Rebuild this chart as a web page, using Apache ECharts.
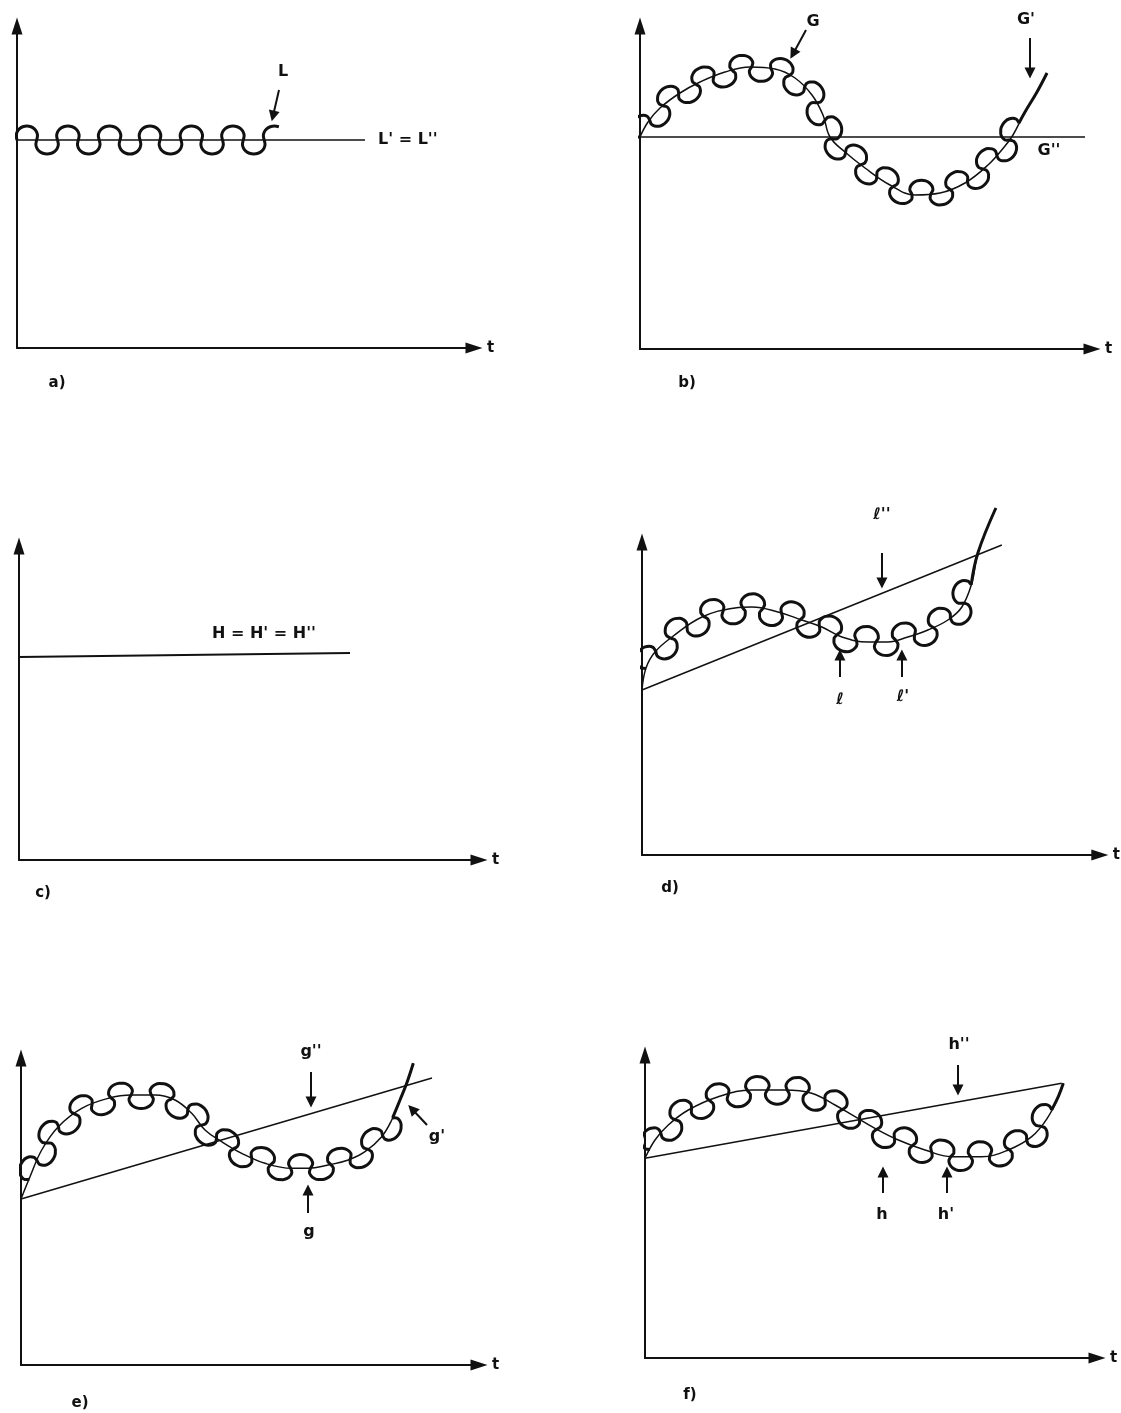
<!DOCTYPE html>
<html><head><meta charset="utf-8">
<script src="https://cdn.jsdelivr.net/npm/echarts@6/dist/echarts.min.js"></script>
<style>html,body{margin:0;padding:0;background:#fff}#c{width:1121px;height:1413px}</style>
</head><body><div id="c"></div><script>
// ---------- data (data units of each panel) ----------
const panelLabels = ['a)', 'b)', 'c)', 'd)', 'e)', 'f)'];

// a) L' = L''
const aLevel = [[0, 208], [348, 208]];
const aNodes = [[0,208],[19.7,208],[40.5,208],[61.3,208],[82.2,208],[103,208],[123,208],[143,208],[164,208],[184.7,208],[205.5,208],[226.3,208],[247.2,208],[268,208]];

// b) G, G', G''
const bLevel = [[0, 212], [445, 212]];
const bTrend = [[0,212],[8,227],[20,241],[40,256],[60,267],[85,277],[110,282],[135,280],[155,271],[172,254],[183,234],[190,212],[205,197],[225,181],[250,164],[275,154],[300,156],[325,166],[348,184],[365,203],[373,214],[385,237],[397,257],[407,276]];
const bNodes = [[0,212],[9.7,229],[23,243.3],[38.7,255.1],[55.8,264.7],[73.8,272.5],[92.4,278.5],[111.6,281.9],[131,280.3],[149.4,273.5],[164.5,261.5],[176.3,246.2],[184.8,228.5],[191.6,210.4],[205.6,196.5],[220.9,184.3],[236.8,173],[253.4,162.6],[271.7,155.3],[291,155.3],[309.8,159.9],[327.5,168],[343,180.1],[356.8,193.9],[369.3,208.9],[379,226]];
const bTail = [[379,226],[385,237],[397,257],[407,276]];

// c) H = H' = H''
const cLevel = [[0, 203], [331, 207]];

// d) l, l', l''
const dLine = [[0, 165], [360, 310]];
const dTrend = [[0,165],[4,187],[13,203],[30,218],[60,238],[93,247],[110,248],[136,243],[160,235],[180,228],[200,218],[226,213],[246,213],[266,218],[286,225],[306,235],[320,248],[330,272],[336,302],[354,347]];
const dNodes = [[3.9,186.6],[13.8,203.7],[28.7,216.9],[45.1,228],[61.9,238.5],[81.1,243.8],[100.6,247.4],[120.4,246],[139.6,241.8],[158.6,235.5],[177.4,228.9],[195.2,220.4],[214.3,215.2],[234,213],[253.7,214.9],[272.8,220.4],[291.3,227.6],[308.5,237.3],[321.6,251.9],[329.3,270.3]];
const dTail = [[329.3,270.3],[336,302],[354,347]];

// e) g, g', g''
const eLine = [[0, 166], [411, 287]];
const eTrend = [[0,166],[9,188.3],[20.7,215],[37.3,238.3],[60.7,256.7],[87.3,266.7],[110.7,270],[134,270],[154,265],[170.7,251.7],[184,235],[200.7,223.3],[220.7,211.7],[244,201.7],[270.7,196.7],[287.3,196.7],[307.3,200],[327.3,205],[344,213.3],[360.7,228.3],[370.7,245],[379,265],[385.7,281.7],[392.3,301.7]];
const eNodes = [[8.2,185.8],[16,204.3],[25.7,222],[37.5,238.5],[53.4,251],[71.1,260.6],[90.1,267.1],[110,269.9],[130.3,270],[150.2,266],[166.7,254.9],[180.1,239.9],[195.5,226.9],[212.7,216.3],[230.7,207.4],[249.9,200.6],[269.6,196.9],[289.7,197.1],[309.7,200.6],[329.2,206],[346.8,215.8],[361.5,229.6],[371.6,247.1]];
const eTail = [[371.6,247.1],[379,265],[385.7,281.7],[392.3,301.7]];

// f) h, h', h''
const fLine = [[0, 199.7], [416.7, 274.7]];
const fTrend = [[0,199.7],[10,218],[23.3,233],[43.3,248],[73.3,261.3],[106.7,268],[140,268],[166.7,264.7],[190,253],[210,241.3],[230,229.7],[253.3,218],[280,208],[306.7,201.3],[336.7,201.3],[363.3,208],[386.7,221.3],[403.3,241.3],[413.3,261.3],[418.3,274.7]];
const fNodes = [[4.8,208.5],[15.9,224.8],[30.3,238.2],[46.6,249.5],[64.6,257.4],[83.3,263.3],[102.7,267.2],[122.4,268],[142.4,267.7],[161.9,265.3],[180,258],[197.5,248.6],[214.6,238.6],[231.9,228.8],[249.5,219.9],[267.7,212.6],[286.6,206.4],[305.9,201.5],[325.6,201.3],[345.2,203.4],[364.2,208.5],[381.6,218.4],[395.5,231.9],[406.7,248.1]];
const fTail = [[406.7,248.1],[413.3,261.3],[418.3,274.7]];

// annotation arrows [panel, from, to]
const arrows = [
  [0, [262,258], [256,232]],
  [1, [166,319], [153,295]],
  [1, [390,311], [390,276]],
  [3, [240,302], [240,272]],
  [3, [198,178], [198,200]],
  [3, [260,178], [260,200]],
  [4, [290,293], [290,263]],
  [4, [287,152], [287,175]],
  [4, [406,240], [391,256]],
  [5, [313,293], [313,268]],
  [5, [238,165], [238,186]],
  [5, [302,165], [302,186]]
];
// text labels [panel, text, x, y, align]
const labels = [
  [0, 'L', 266, 276, 'center'],
  [0, "L' = L''", 361, 208, 'left'],
  [1, 'G', 173, 327, 'center'],
  [1, "G'", 386, 329, 'center'],
  [1, "G''", 409, 198, 'center'],
  [2, "H = H' = H''", 245, 226, 'center'],
  [3, "\u2113''", 240, 340, 'center'],
  [3, '\u2113', 198, 155, 'center'],
  [3, "\u2113'", 261, 158, 'center'],
  [4, "g''", 290, 313, 'center'],
  [4, 'g', 288, 133, 'center'],
  [4, "g'", 416, 228, 'center'],
  [5, "h''", 314, 313, 'center'],
  [5, 'h', 237, 143, 'center'],
  [5, "h'", 301, 143, 'center']
];

// half-bump glyphs of the wiggly curves (fraction of chord, fraction of height)
const bumpShape = [[0,0],[-0.025,0.15],[-0.04,0.3],[0.001,0.568],[0.118,0.795],[0.293,0.947],[0.5,1],[0.707,0.947],[0.882,0.795],[0.999,0.568],[1.04,0.3],[1.025,0.15],[1,0]];
const loopShape = [[0,0],[-0.06,0.15],[-0.1,0.3],[-0.054,0.568],[0.076,0.795],[0.27,0.947],[0.5,1],[0.73,0.947],[0.924,0.795],[1.054,0.568],[1.1,0.3],[1.06,0.15],[1,0]];

// ---------- layout ----------
const panels = [
  {ox: 17,  oy: 348,  W: 457, H: 322, lab: [57, 383]},
  {ox: 640, oy: 349,  W: 452, H: 323, lab: [687, 383]},
  {ox: 19,  oy: 860,  W: 460, H: 314, lab: [43, 893]},
  {ox: 642, oy: 855,  W: 458, H: 313, lab: [670, 888]},
  {ox: 21,  oy: 1365, W: 458, H: 307, lab: [80, 1403]},
  {ox: 645, oy: 1358, W: 452, H: 303, lab: [690, 1395]}
];

function wiggle(nodes, shape, amp, firstSign, lastCount) {
  const out = [];
  for (let i = 0; i < nodes.length - 1; i++) {
    const [x0, y0] = nodes[i], [x1, y1] = nodes[i + 1];
    const dx = x1 - x0, dy = y1 - y0, L = Math.hypot(dx, dy);
    const nx = -dy / L, ny = dx / L;
    const s = firstSign * (i % 2 === 0 ? 1 : -1);
    const n = (i === nodes.length - 2 && lastCount) ? lastCount : shape.length;
    for (let k = (i === 0 ? 0 : 1); k < n; k++) {
      const [u, v] = shape[k];
      out.push([x0 + dx * u + nx * s * amp * v, y0 + dy * u + ny * s * amp * v]);
    }
  }
  return out;
}

const INK = '#111';
const FONT = '"DejaVu Sans"';
const grid = [], xAxis = [], yAxis = [], series = [];
panels.forEach((p, i) => {
  grid.push({left: p.ox, top: p.oy - p.H, width: p.W, height: p.H});
  const axLine = {show: true, onZero: false, symbol: ['none', 'triangle'], symbolSize: [11, 17], lineStyle: {color: INK, width: 2}};
  xAxis.push({type: 'value', gridIndex: i, min: 0, max: p.W, axisLine: axLine,
    axisTick: {show: false}, axisLabel: {show: false}, splitLine: {show: false},
    name: 't', nameLocation: 'end', nameGap: 13,
    nameTextStyle: {color: INK, fontFamily: 'DejaVu Sans', fontWeight: 'bold', fontSize: 15}});
  yAxis.push({type: 'value', gridIndex: i, min: 0, max: p.H, axisLine: axLine,
    axisTick: {show: false}, axisLabel: {show: false}, splitLine: {show: false}});
});

function line(i, data, width, smooth, clip) {
  series.push({type: 'line', xAxisIndex: i, yAxisIndex: i, data: data, showSymbol: false, symbol: 'none',
    smooth: smooth, clip: clip, silent: true, lineStyle: {color: INK, width: width}});
}
// a
line(0, aLevel, 1.5, false, false);
line(0, wiggle(aNodes, bumpShape, 14, 1, 8), 3, 0.35, true);
// b
line(1, bLevel, 1.5, false, false);
line(1, bTrend, 1.5, 0.4, false);
line(1, wiggle(bNodes, loopShape, 13.5, 1), 3, 0.35, true);
line(1, bTail, 3, 0.4, false);
// c
line(2, cLevel, 2, false, false);
// d
line(3, dLine, 1.5, false, false);
line(3, dTrend, 1.5, 0.4, false);
line(3, wiggle(dNodes, loopShape, 14.5, 1), 3, 0.35, true);
line(3, dTail, 3, 0.4, false);
// e
line(4, eLine, 1.5, false, false);
line(4, eTrend, 1.5, 0.4, false);
line(4, wiggle(eNodes, loopShape, 13.5, 1), 3, 0.35, true);
line(4, eTail, 3, 0.4, false);
// f
line(5, fLine, 1.5, false, false);
line(5, fTrend, 1.5, 0.4, false);
line(5, wiggle(fNodes, loopShape, 14, 1), 3, 0.35, true);
line(5, fTail, 3, 0.4, false);

arrows.forEach(a => {
  series.push({type: 'lines', coordinateSystem: 'cartesian2d', xAxisIndex: a[0], yAxisIndex: a[0],
    symbol: ['none', 'triangle'], symbolSize: 11, silent: true,
    lineStyle: {color: INK, width: 2, opacity: 1},
    data: [{coords: [a[1], a[2]]}]});
});

const chart = echarts.init(document.getElementById('c'), null, {renderer: 'canvas'});
chart.setOption({animation: false, backgroundColor: '#fff', grid, xAxis, yAxis, series});

// texts: annotation labels placed through each panel's axes, panel captions below the axes
const graphic = [];
labels.forEach(l => {
  const pt = chart.convertToPixel({gridIndex: l[0]}, [l[2], l[3]]);
  graphic.push({type: 'text', x: pt[0], y: pt[1], silent: true,
    style: {text: l[1], fill: INK, font: 'bold 16px ' + FONT, align: l[4], verticalAlign: 'middle'}});
});
panels.forEach((p, i) => {
  graphic.push({type: 'text', x: p.lab[0], y: p.lab[1], silent: true,
    style: {text: panelLabels[i], fill: INK, font: 'bold 15px ' + FONT, align: 'center', verticalAlign: 'middle'}});
});
chart.setOption({graphic: graphic});
</script></body></html>
